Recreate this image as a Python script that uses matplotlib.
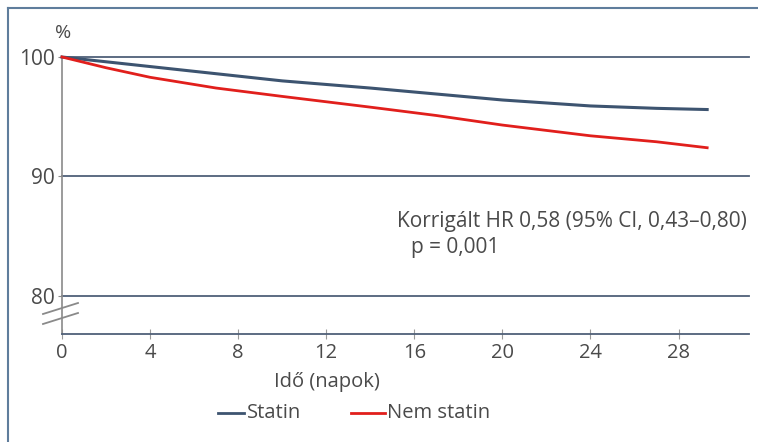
import matplotlib.pyplot as plt
from matplotlib.lines import Line2D

plt.rcParams['font.family'] = ['Open Sans', 'DejaVu Sans']

# days and survival (%)
days = [0, 2, 4, 7, 10, 14, 17, 20, 24, 27, 29.3]
statin = [100, 99.6, 99.2, 98.6, 98.0, 97.4, 96.9, 96.4, 95.9, 95.7, 95.6]
nem_statin = [100, 99.1, 98.3, 97.4, 96.7, 95.8, 95.1, 94.3, 93.4, 92.9, 92.4]

x_ticks = [0, 4, 8, 12, 16, 20, 24, 28]
y_ticks = [80, 90, 100]

blue = '#3d5470'
red = '#e11f1c'
grid = '#4f6078'
txt = '#4a4a4a'

W, H = 758, 442
fig = plt.figure(figsize=(W / 100, H / 100), dpi=100)

# outer frame (left and top edges visible)
fig.add_artist(Line2D([8 / W, 8 / W], [0, 1 - 8 / H], color='#5f7d9c', lw=1.5))
fig.add_artist(Line2D([8 / W, 1], [1 - 8 / H, 1 - 8 / H], color='#5f7d9c', lw=1.5))

ax = fig.add_axes([62 / W, (H - 334) / H, (749 - 62) / W, (334 - 57) / H])
ax.set_xlim(0, 31.2)
ax.set_ylim(76.8, 100)

for y in y_ticks:
    ax.axhline(y, color=grid, lw=1.3, zorder=1, clip_on=False)

ax.plot(days, statin, color=blue, lw=2.2, zorder=3, clip_on=False)
ax.plot(days, nem_statin, color=red, lw=2.0, zorder=3, clip_on=False)

for s in ['top', 'right']:
    ax.spines[s].set_visible(False)
ax.spines['bottom'].set_color(grid)
ax.spines['bottom'].set_linewidth(1.3)
ax.spines['left'].set_color('#8a8a8a')
ax.spines['left'].set_linewidth(1.2)

ax.set_xticks(x_ticks)
ax.set_yticks(y_ticks)
ax.tick_params(axis='x', direction='inout', length=7, color='#9a9a9a',
               labelsize=14.5, labelcolor=txt, pad=3)
ax.tick_params(axis='y', direction='out', length=3, color='#8a8a8a',
               labelsize=15, labelcolor=txt, pad=2)

# axis break marks
for y0 in [303, 313]:
    fig.add_artist(Line2D([43 / W, 78 / W], [1 - (y0 + 11) / H, 1 - y0 / H],
                          color='#8a8a8a', lw=1.3))

fig.text(63 / W, 1 - 33 / H, '%', ha='center', va='center', fontsize=14, color=txt)
fig.text(327 / W, 1 - 382 / H, 'Idő (napok)', ha='center', va='center',
         fontsize=14.5, color=txt)

fig.text(397 / W, 1 - 221 / H, 'Korrigált HR 0,58 (95% CI, 0,43–0,80)',
         ha='left', va='center', fontsize=15, color=txt)
fig.text(411 / W, 1 - 248 / H, 'p = 0,001',
         ha='left', va='center', fontsize=15, color=txt)

# legend
fig.add_artist(Line2D([218 / W, 244 / W], [1 - 413 / H] * 2, color=blue, lw=2))
fig.text(247 / W, 1 - 413 / H, 'Statin', ha='left', va='center', fontsize=14.5, color=txt)
fig.add_artist(Line2D([351 / W, 385 / W], [1 - 413 / H] * 2, color=red, lw=2))
fig.text(387 / W, 1 - 413 / H, 'Nem statin', ha='left', va='center', fontsize=14.5, color=txt)

fig.savefig('out.png', dpi=100)
